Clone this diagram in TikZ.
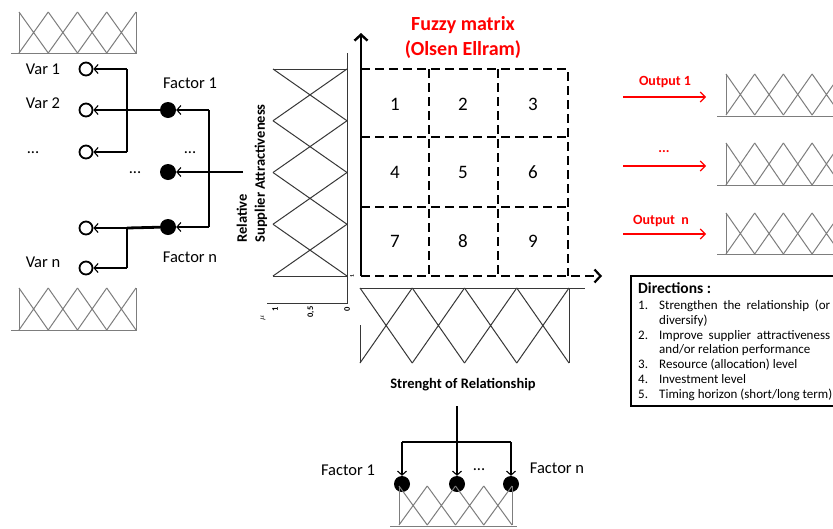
\documentclass[tikz,border=0pt]{standalone}
\usepackage{fontspec}
\setmainfont{Carlito}
\usetikzlibrary{arrows.meta}

\definecolor{mfgray}{RGB}{125,125,125}
\definecolor{mfdark}{RGB}{55,55,55}
\definecolor{hotred}{RGB}{255,0,0}

% zig-zag of overlapping triangles, horizontal: x0, step, count, ytop, ybottom, style
\newcommand\zigrow[6]{%
  \foreach \k in {1,...,#3}{%
    \draw[#6] ({#1+(\k-1)*#2},#4) -- ({#1+\k*#2},#5)
              ({#1+(\k-1)*#2},#5) -- ({#1+\k*#2},#4);
  }}
% same, stacked vertically: y0, step, count, xleft, xright, style
\newcommand\zigcol[6]{%
  \foreach \k in {1,...,#3}{%
    \draw[#6] (#4,{#1+(\k-1)*#2}) -- (#5,{#1+\k*#2})
              (#5,{#1+(\k-1)*#2}) -- (#4,{#1+\k*#2});
  }}

\tikzset{
  hollow/.style={circle, draw, line width=1.8pt, minimum size=13pt, inner sep=0pt},
  dotf/.style={circle, fill, minimum size=16pt, inner sep=0pt},
  link/.style={line width=1.1pt, -{Straight Barb[length=4pt,width=9pt,line width=1.1pt]}},
  redlink/.style={hotred, line width=1.1pt, -{Straight Barb[length=5pt,width=10pt,line width=1.1pt]}},
  heavy/.style={line width=2.8pt},
  lbl/.style={font=\fontsize{16.5}{19}\selectfont},
  redlbl/.style={font=\fontsize{14}{16}\selectfont\bfseries, text=hotred},
  cellnum/.style={font=\fontsize{19}{22}\selectfont},
  gridline/.style={line width=2.2pt, dash pattern=on 9pt off 5pt},
  mflight/.style={mfgray, line width=1pt},
  mfheavy/.style={mfdark, line width=1pt},
  ticklbl/.style={font=\fontsize{8.5}{9}\selectfont\bfseries, rotate=90},
}

\begin{document}
\begin{tikzpicture}[x=1pt, y=-1pt]
\useasboundingbox (0,0) rectangle (833,528);
\clip (0,0) rectangle (833,528);
\fill[white] (0,0) rectangle (833,528);

% ---------- input membership functions (left) ----------
\zigrow{19}{29.25}{4}{12}{53}{mflight}
\draw[mflight] (19,12) -- (19,53) (136,12) -- (136,53) (11,53) -- (137,53);
\zigrow{19}{29.25}{4}{288}{330}{mflight}
\draw[mflight] (19,288) -- (19,330) (136,288) -- (136,330) (11,330) -- (137,330);

% ---------- variables and factors ----------
\node[hollow] (v1) at (86,69) {};
\node[hollow] (v2) at (86,110) {};
\node[hollow] (v3) at (86,152) {};
\node[hollow] (v4) at (86,228) {};
\node[hollow] (v5) at (86,268) {};
\node[lbl] (tv1) at (43,69) {Var 1};
\node[lbl] (tv2) at (43,103) {Var 2};
\node[lbl] (tv3) at (33,153) {...};
\node[lbl] (tv5) at (43,262) {Var n};

\node[dotf] (f1) at (168,110) {};
\node[dotf] (fm) at (168,172) {};
\node[dotf] (fn) at (168,227) {};
\node[lbl] (tf1) at (190,83) {Factor 1};
\node[lbl] (tfm1) at (190,153) {...};
\node[lbl] (tfm2) at (135,173) {...};
\node[lbl] (tfn) at (190,257) {Factor n};

\coordinate (ja) at (127,69);
\coordinate (jb) at (127,110);
\coordinate (jc) at (127,152);
\coordinate (jd) at (127,228);
\coordinate (je) at (127,268);
\draw[line width=1.1pt] (ja) -- (jc);
\draw[line width=1.1pt] (jd) -- (je);
\draw[link] (ja) -- (v1);
\draw[link] (jc) -- (v3);
\draw[link] (jb) -- (v2);
\draw[link] (jd) -- (v4);
\draw[link] (je) -- (v5);
\draw[heavy] (f1) -- (jb);
\draw[heavy] (fn) -- (jd);

\coordinate (ka) at (209,110);
\coordinate (kb) at (209,172);
\coordinate (kc) at (209,227);
\coordinate (kin) at (243,172);
\draw[line width=1.1pt] (ka) -- (kc);
\draw[link] (ka) -- (f1);
\draw[link] (kb) -- (fm);
\draw[link] (kc) -- (fn);
\draw[heavy] (kin) -- (kb);

% ---------- vertical membership functions beside the matrix ----------
\zigcol{69}{51.75}{4}{273}{347}{mfheavy}
\draw[mfheavy] (273,69) -- (347,69) (273,276) -- (347,276);
\draw[mfheavy] (347,53) -- (347,303) -- (267,303);
\node[ticklbl] (mu) at (263,318) {$\mu$};
\node[ticklbl] (t1) at (275,309) {1};
\node[ticklbl] (t05) at (311,312) {0,5};
\node[ticklbl] (t0) at (347,309) {0};
\node[ticklbl, font=\fontsize{5.5}{6}\selectfont\bfseries] (tc) at (352,276) {1};

\node[rotate=90, align=left, anchor=west, font=\fontsize{14.5}{18}\selectfont\bfseries] (ylab) at (252,246)
  {Relative\\Supplier Attractiveness};

% ---------- fuzzy matrix ----------
\node[font=\fontsize{20}{25}\selectfont\bfseries, text=hotred, align=center] (title) at (463,37)
  {Fuzzy matrix\\(Olsen Ellram)};

\coordinate (o) at (361,276);
\coordinate (ytop) at (361,33);
\coordinate (xend) at (602,276);
\draw[gridline] (361,69) -- (568,69) -- (568,276);
\draw[gridline] (361,137) -- (568,137);
\draw[gridline] (361,207) -- (568,207);
\draw[gridline] (429,69) -- (429,276);
\draw[gridline] (498,69) -- (498,276);
\draw[gridline, -{Straight Barb[length=6pt,width=13pt,line width=2.2pt]}] (o) -- (xend);
\draw[line width=2.8pt, -{Straight Barb[length=6pt,width=13pt,line width=2.4pt]}] (o) -- (ytop);

\node[cellnum] (c1) at (395,104) {1};
\node[cellnum] (c2) at (463,104) {2};
\node[cellnum] (c3) at (533,104) {3};
\node[cellnum] (c4) at (395,172) {4};
\node[cellnum] (c5) at (463,172) {5};
\node[cellnum] (c6) at (533,172) {6};
\node[cellnum] (c7) at (395,241) {7};
\node[cellnum] (c8) at (463,241) {8};
\node[cellnum] (c9) at (533,241) {9};

% ---------- horizontal membership functions below the matrix ----------
\draw[mfheavy] (360,288) -- (585,288);
\zigrow{360}{52.25}{4}{288}{363}{mfheavy}
\draw[mfheavy] (569,288) -- (569,363) (360,325) -- (360,363);
\node[font=\fontsize{14.5}{17}\selectfont\bfseries] (xlab) at (463,385) {Strenght of Relationship};

% ---------- factors feeding the strength axis ----------
\coordinate (sa) at (457,406);
\coordinate (sb) at (457,442);
\coordinate (sl) at (402,442);
\coordinate (sr) at (511,442);
\node[dotf] (b1) at (402,484) {};
\node[dotf] (b2) at (457,484) {};
\node[dotf] (b3) at (511,484) {};
\draw[heavy] (sa) -- (sb);
\draw[line width=1.1pt] (sl) -- (sr);
\draw[link] (sl) -- (b1);
\draw[link] (sb) -- (b2);
\draw[link] (sr) -- (b3);
\node[lbl] (tb1) at (348,470) {Factor 1};
\node[lbl] (tbm) at (479,470) {...};
\node[lbl] (tbn) at (557,468) {Factor n};
\zigrow{399}{28.25}{4}{486}{525}{mflight}
\draw[mflight] (399,486) -- (399,525) (512,486) -- (512,525) (390,526) -- (517,526);

% ---------- outputs ----------
\coordinate (oas) at (623,97);  \coordinate (oae) at (706,97);
\coordinate (obs) at (623,166); \coordinate (obe) at (706,166);
\coordinate (ocs) at (623,234); \coordinate (oce) at (706,234);
\draw[redlink] (oas) -- (oae);
\draw[redlink] (obs) -- (obe);
\draw[redlink] (ocs) -- (oce);
\node[redlbl] (oat) at (665,82) {Output 1};
\node[redlbl] (obt) at (664,152) {...};
\node[redlbl] (oct) at (661,221) {Output\ \ n};

\zigrow{726}{28.7}{5}{74}{115}{mflight}
\draw[mflight] (726,74) -- (726,115) (717,116) -- (840,116);
\zigrow{726}{28.7}{5}{143}{185}{mflight}
\draw[mflight] (726,143) -- (726,185) (717,185) -- (840,185);
\zigrow{726}{28.7}{5}{213}{254}{mflight}
\draw[mflight] (726,213) -- (726,254) (717,254) -- (840,254);

% ---------- directions box ----------
\node[draw, line width=2pt, anchor=north west, minimum width=230pt, minimum height=130pt] (dirbox) at (630,275) {};
\node[anchor=north west, inner sep=0pt, font=\fontsize{13}{14.8}\selectfont] (dirtxt) at (638,282) {%
  \begin{tabular}{@{}p{21pt}@{}l@{}}
  \multicolumn{2}{@{}l}{\fontsize{15.5}{17}\selectfont\bfseries Directions :}\\[1.5pt]
  1. & \makebox[171pt][s]{Strengthen the relationship (or}\\
     & diversify)\\
  2. & \makebox[171pt][s]{Improve supplier attractiveness}\\
     & and/or relation performance\\
  3. & Resource (allocation) level\\
  4. & Investment level\\
  5. & Timing horizon (short/long term)
  \end{tabular}};
\end{tikzpicture}
\end{document}
